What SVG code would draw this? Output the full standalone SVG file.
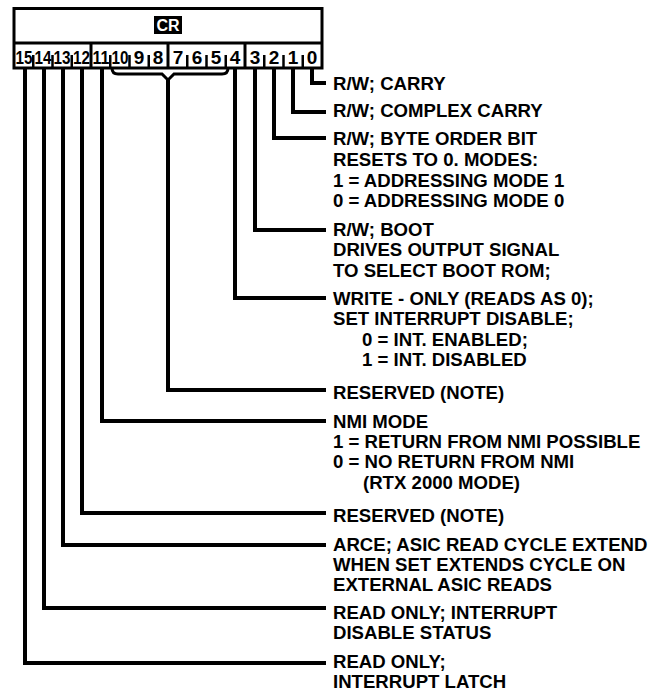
<svg xmlns="http://www.w3.org/2000/svg" width="659" height="692" viewBox="0 0 659 692">
<style>
.t{font-family:"Liberation Sans",Arial,sans-serif;font-weight:bold;font-size:18.6px;fill:#000}
.d{font-family:"Liberation Sans",Arial,sans-serif;font-weight:bold;font-size:19px;fill:#000;text-anchor:middle}
.c{fill:none;stroke:#000;stroke-width:4;stroke-linejoin:miter;stroke-linecap:butt}
.b{fill:none;stroke:#000;stroke-width:3}
.k{stroke:#000;stroke-width:2.5}
</style>
<rect x="0" y="0" width="659" height="692" fill="#fff"/>
<g id="register">
<rect class="b" x="14" y="8.5" width="308" height="59.5" fill="#fff"/>
<line class="b" x1="14" y1="43" x2="322" y2="43"/>
<rect x="154" y="16" width="28" height="18" fill="#000"/>
<text x="168" y="31" font-family="Liberation Sans,Arial,sans-serif" font-weight="bold" font-size="16" fill="#fff" text-anchor="middle">CR</text>
<line class="b" x1="91" y1="43" x2="91" y2="68"/>
<line class="b" x1="168" y1="43" x2="168" y2="68"/>
<line class="b" x1="245" y1="43" x2="245" y2="68"/>
<g class="k">
<line x1="33.25" y1="55" x2="33.25" y2="68"/><line x1="52.5" y1="55" x2="52.5" y2="68"/><line x1="71.75" y1="55" x2="71.75" y2="68"/>
<line x1="110.25" y1="55" x2="110.25" y2="68"/><line x1="129.5" y1="55" x2="129.5" y2="68"/><line x1="148.75" y1="55" x2="148.75" y2="68"/>
<line x1="187.25" y1="55" x2="187.25" y2="68"/><line x1="206.5" y1="55" x2="206.5" y2="68"/><line x1="225.75" y1="55" x2="225.75" y2="68"/>
<line x1="264.25" y1="55" x2="264.25" y2="68"/><line x1="283.5" y1="55" x2="283.5" y2="68"/><line x1="302.75" y1="55" x2="302.75" y2="68"/>
</g>
<text class="d" x="24" y="64" textLength="17" lengthAdjust="spacingAndGlyphs">15</text>
<text class="d" x="43" y="64" textLength="17" lengthAdjust="spacingAndGlyphs">14</text>
<text class="d" x="62" y="64" textLength="17" lengthAdjust="spacingAndGlyphs">13</text>
<text class="d" x="81.5" y="64" textLength="17" lengthAdjust="spacingAndGlyphs">12</text>
<text class="d" x="101" y="64" textLength="17" lengthAdjust="spacingAndGlyphs">11</text>
<text class="d" x="120" y="64" textLength="17" lengthAdjust="spacingAndGlyphs">10</text>
<text class="d" x="139" y="64">9</text>
<text class="d" x="158" y="64">8</text>
<text class="d" x="178" y="64">7</text>
<text class="d" x="197" y="64">6</text>
<text class="d" x="216" y="64">5</text>
<text class="d" x="235" y="64">4</text>
<text class="d" x="255" y="64">3</text>
<text class="d" x="274" y="64">2</text>
<text class="d" x="293" y="64">1</text>
<text class="d" x="312" y="64">0</text>
</g>
<g id="connectors">
<path class="c" d="M312,68 V83 H326"/>
<path class="c" d="M293,68 V112 H326"/>
<path class="c" d="M274,68 V138 H326"/>
<path class="c" d="M255,68 V230 H326"/>
<path class="c" d="M235,68 V298 H326"/>
<path class="b" d="M112,68 Q112,74 118,74 H162 L168,80 L174,74 H222 Q228,74 228,68"/>
<path class="c" d="M168,78 V390 H326"/>
<path class="c" d="M102,68 V421 H326"/>
<path class="c" d="M82,68 V513 H326"/>
<path class="c" d="M63,68 V545 H326"/>
<path class="c" d="M44,68 V608 H326"/>
<path class="c" d="M25,68 V663 H326"/>
</g>
<g id="bit0"><text class="t" x="333" y="90">R/W; CARRY</text></g>
<g id="bit1"><text class="t" x="333" y="117">R/W; COMPLEX CARRY</text></g>
<g id="bit2">
<text class="t" x="333" y="145">R/W; BYTE ORDER BIT</text>
<text class="t" x="333" y="166">RESETS TO 0. MODES:</text>
<text class="t" x="333" y="187">1 = ADDRESSING MODE 1</text>
<text class="t" x="333" y="207">0 = ADDRESSING MODE 0</text>
</g>
<g id="bit3">
<text class="t" x="333" y="236">R/W; BOOT</text>
<text class="t" x="333" y="256">DRIVES OUTPUT SIGNAL</text>
<text class="t" x="333" y="277">TO SELECT BOOT ROM;</text>
</g>
<g id="bit4">
<text class="t" x="333" y="305">WRITE - ONLY (READS AS 0);</text>
<text class="t" x="333" y="325">SET INTERRUPT DISABLE;</text>
<text class="t" x="362" y="346">0 = INT. ENABLED;</text>
<text class="t" x="362" y="366">1 = INT. DISABLED</text>
</g>
<g id="bits5to10"><text class="t" x="333" y="399">RESERVED (NOTE)</text></g>
<g id="bit11">
<text class="t" x="333" y="428">NMI MODE</text>
<text class="t" x="333" y="448">1 = RETURN FROM NMI POSSIBLE</text>
<text class="t" x="333" y="468">0 = NO RETURN FROM NMI</text>
<text class="t" x="363" y="489">(RTX 2000 MODE)</text>
</g>
<g id="bit12"><text class="t" x="333" y="522">RESERVED (NOTE)</text></g>
<g id="bit13">
<text class="t" x="333" y="551">ARCE; ASIC READ CYCLE EXTEND</text>
<text class="t" x="333" y="571">WHEN SET EXTENDS CYCLE ON</text>
<text class="t" x="333" y="591">EXTERNAL ASIC READS</text>
</g>
<g id="bit14">
<text class="t" x="333" y="619">READ ONLY; INTERRUPT</text>
<text class="t" x="333" y="639">DISABLE STATUS</text>
</g>
<g id="bit15">
<text class="t" x="333" y="668">READ ONLY;</text>
<text class="t" x="333" y="688">INTERRUPT LATCH</text>
</g>
</svg>
